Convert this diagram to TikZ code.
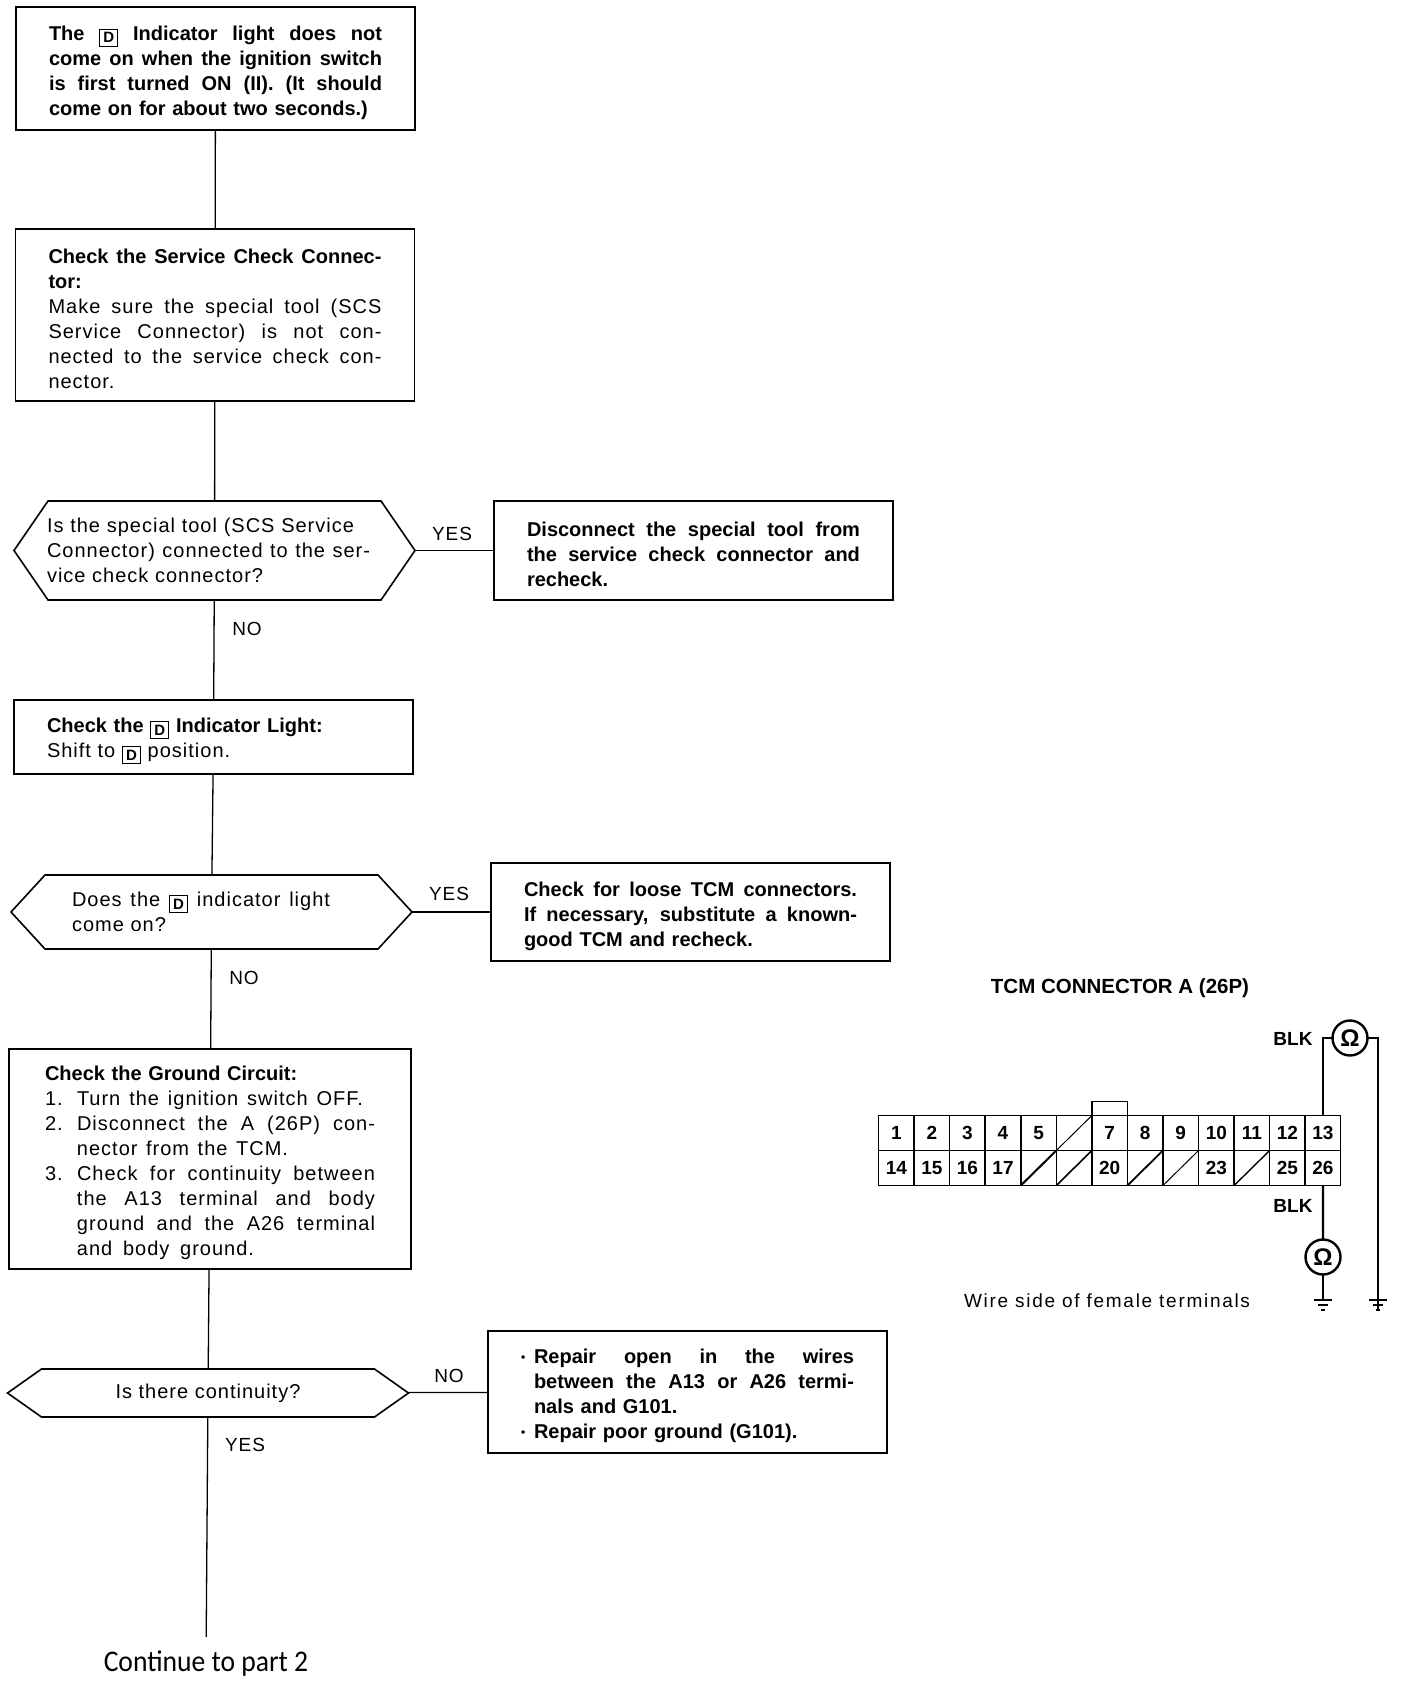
\documentclass[tikz,border=0pt]{standalone}
\usepackage{fontspec}
\usepackage{graphicx}
\setmainfont{Liberation Sans}[LetterSpace=5,BoldFeatures={LetterSpace=0}]
\newfontfamily\contfont{Carlito}
% stretched line, and the small D position box
\newcommand{\fl}[2][\linewidth]{\makebox[#1][s]{\spaceskip=0pt\relax #2}}
\newcommand{\dpos}{\raisebox{-2.5pt}{\fboxsep=3pt\fboxrule=1.1pt\fbox{\fontsize{15}{15}\selectfont\bfseries D}}}
\newcommand{\stepno}[1]{\makebox[32pt][l]{#1}}
\newcommand{\dotmark}{\makebox[13pt][l]{\raisebox{2pt}{\fontsize{12}{12}\selectfont\textbullet}}}

\begin{document}
\begin{tikzpicture}[
      x=1pt, y=-1pt,
      process/.style={draw, rectangle, line width=1.8pt, inner xsep=33pt, inner ysep=0pt, outer sep=0pt, text width=333pt, align=left, font=\fontsize{20}{25}\selectfont, execute at begin node={\leavevmode\rule{0pt}{23pt}}},
      decision/.style={rectangle, inner xsep=0pt, inner ysep=0pt, outer sep=0pt, minimum width=401pt, align=left, font=\fontsize{20}{25}\selectfont},
      answer/.style={font=\fontsize{19}{24}\selectfont, inner sep=0pt},
      link/.style={line width=1.3pt},
      cell/.style={draw, rectangle, line width=1.5pt, minimum width=35.55pt, minimum height=35pt, inner sep=0pt, outer sep=0pt, font=\fontsize{19}{19}\selectfont\bfseries},
      meter/.style={draw, circle, line width=2.4pt, minimum size=35pt, inner sep=0pt, outer sep=0pt, font=\fontsize{24}{24}\selectfont\bfseries},
      wire/.style={line width=2.2pt}
    ]
    \useasboundingbox (0,0) rectangle (1408,1688);
    % Left column
    \node [process, minimum height=123pt] (start) at (215.5,68.5) {\bfseries
      \fl{The \dpos{} Indicator light does not}\\
      \fl{come on when the ignition switch}\\
      \fl{is first turned ON (II). (It should}\\
      come on for about two seconds.)};
    \node [process, minimum height=172pt] (scs) at (215,315) {%
      \fl{\bfseries Check the Service Check Connec-}\\
      {\bfseries tor:}\\
      \fl{Make sure the special tool (SCS}\\
      \fl{Service Connector) is not con-}\\
      \fl{nected to the service check con-}\\
      nector.};
    \node [decision, minimum height=99pt, text width=335pt] (tool) at (214.5,550.5) {%
      \fl[307pt]{Is the special tool (SCS Service}\\
      \fl[323pt]{Connector) connected to the ser-}\\
      vice check connector?};
    \node [process, minimum height=74pt] (light) at (213.5,737) {%
      {\bfseries Check the \dpos{} Indicator Light:}\\
      Shift to \dpos{} position.};
    \node [decision, minimum height=74pt, text width=279pt] (on) at (211.5,912) {%
      \fl[258pt]{Does the \dpos{} indicator light}\\
      come on?};
    \node [process, minimum height=220pt, inner xsep=36pt, text width=330pt] (ground) at (210,1159) {%
      {\bfseries Check the Ground Circuit:}\\
      \stepno{1.}\fl[286pt]{Turn the ignition switch OFF.}\\
      \stepno{2.}\fl[298pt]{Disconnect the A (26P) con-}\\
      \hspace*{32pt}\fl[211pt]{nector from the TCM.}\\
      \stepno{3.}\fl[298pt]{Check for continuity between}\\
      \hspace*{32pt}\fl[298pt]{the A13 terminal and body}\\
      \hspace*{32pt}\fl[298pt]{ground and the A26 terminal}\\
      \hspace*{32pt}\fl[177pt]{and body ground.}};
    \node [decision, minimum height=48pt, align=center] (cont) at (208,1393) {Is there continuity?};
    \node [font=\contfont\fontsize{30}{30}\selectfont, inner sep=0pt, minimum height=54pt] (part) at (206,1664) {\scalebox{.92}[1]{Continue to part 2}};

    % Hexagon outlines
    \foreach \hex in {tool,on,cont}
      \draw [line width=1.6pt] (\hex.west) -- ([xshift=34pt]\hex.north west) -- ([xshift=-34pt]\hex.north east) -- (\hex.east) -- ([xshift=-34pt]\hex.south east) -- ([xshift=34pt]\hex.south west) -- cycle;

    % Right column
    \node [process, minimum height=99pt] (fixa) at (693.5,550.5) {\bfseries
      \fl{Disconnect the special tool from}\\
      \fl{the service check connector and}\\
      recheck.};
    \node [process, minimum height=98pt] (fixb) at (690.5,912) {\bfseries
      \fl{Check for loose TCM connectors.}\\
      \fl{If necessary, substitute a known-}\\
      good TCM and recheck.};
    \node [process, minimum height=122pt] (fixc) at (687.5,1392) {\bfseries
      \dotmark\fl[320pt]{Repair open in the wires}\\
      \hspace*{13pt}\fl[320pt]{between the A13 or A26 termi-}\\
      \hspace*{13pt}nals and G101.\\
      \dotmark Repair poor ground (G101).};

    % Answers
    \node [answer] (yesa) at (452,534) {YES};
    \node [answer] (noa) at (247,629) {NO};
    \node [answer] (yesb) at (449,894) {YES};
    \node [answer] (nob) at (244,978) {NO};
    \node [answer] (noc) at (449,1376) {NO};
    \node [answer] (yesc) at (245,1445) {YES};

    % Links
    \draw [link] (start) -- (scs);
    \draw [link] (scs) -- (tool);
    \draw [link] (tool) -- (light);
    \draw [link] (light) -- (on);
    \draw [link] (on) -- (ground);
    \draw [link] (ground) -- (cont);
    \draw [link] (cont) -- (part);
    \draw [link] (tool) -- (fixa);
    \draw [link] (on) -- (fixb);
    \draw [link] (cont) -- (fixc);

    % Connector
    \node [font=\fontsize{20.5}{20.5}\selectfont\bfseries, inner sep=0pt] (title) at (1120,988) {TCM CONNECTOR A (26P)};
    \foreach \col/\lbl in {1/1,2/2,3/3,4/4,5/5,6/,7/7,8/8,9/9,10/10,11/11,12/12,13/13}
      \node [cell] (a\col) at (860.8+35.55*\col,1133) {\lbl};
    \foreach \col/\lbl in {1/14,2/15,3/16,4/17,5/,6/,7/20,8/,9/,10/23,11/,12/25,13/26}
      \node [cell] (b\col) at (860.8+35.55*\col,1168) {\lbl};
    \foreach \blank/\weight in {a6/1,b5/2,b6/1.6,b8/1.8,b9/1,b11/1.4}
      \draw [line width=\weight pt] (\blank.south west) -- (\blank.north east);
    \node [draw, rectangle, line width=1.3pt, minimum width=35.55pt, minimum height=14pt, inner sep=0pt, outer sep=0pt, anchor=south] (tab) at (a7.north) {};

    % Meters and ground
    \node [meter] (metera) at (1350,1038) {Ω};
    \node [meter] (meterb) at (1323,1257) {Ω};
    \node [answer, font=\fontsize{19}{19}\selectfont\bfseries] (blka) at (1293,1039) {BLK};
    \node [answer, font=\fontsize{19}{19}\selectfont\bfseries] (blkb) at (1293,1206) {BLK};
    \node [answer, font=\fontsize{19}{19}\addfontfeature{LetterSpace=9}\selectfont] (side) at (1107,1301) {Wire side of female terminals};
    \coordinate (gnda) at (1323,1300);
    \coordinate (gndb) at (1378,1311);
    \draw [wire] (a13.north) |- (metera.west);
    \draw [wire] (metera.east) -| (gndb);
    \draw [wire] (b13.south) -- (meterb);
    \draw [wire] (meterb) -- (gnda);
    \foreach \gnd/\top in {gnda/0,gndb/-11}
      \foreach \off/\half in {0/9,5/5,10/2}
        \draw [line width=1.4pt] ([shift={(-\half,\off+\top)}]\gnd) -- ([shift={(\half,\off+\top)}]\gnd);
\end{tikzpicture}
\end{document}
